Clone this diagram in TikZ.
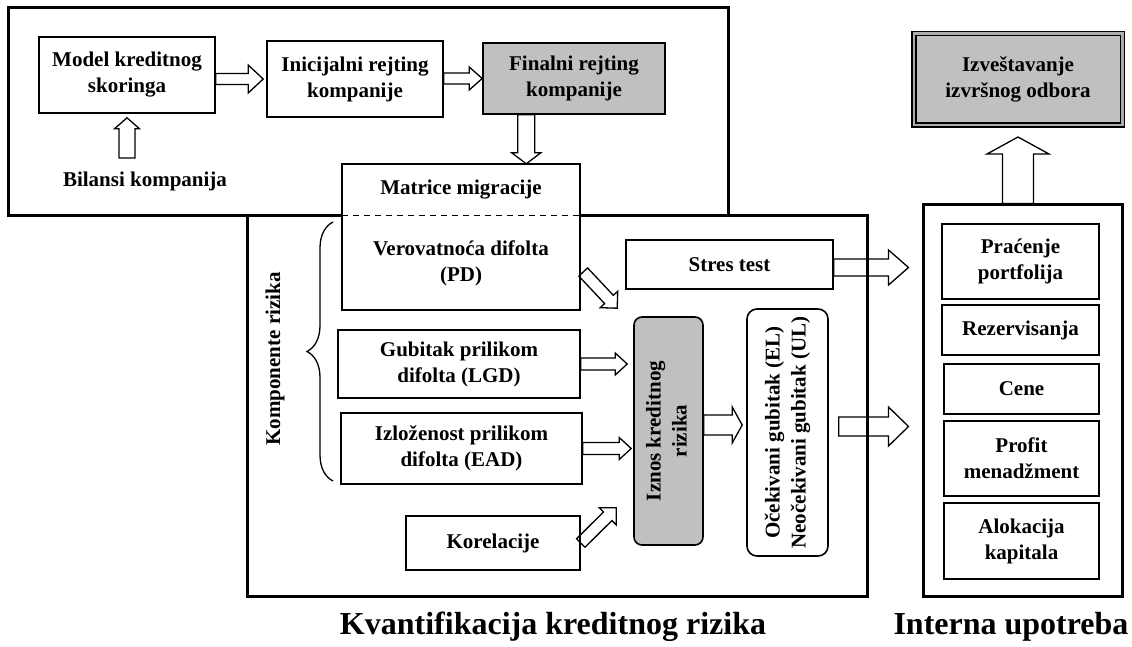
\documentclass[tikz,border=0pt]{standalone}
\usepackage{fontspec}
\setmainfont{Liberation Serif}
\usetikzlibrary{calc,decorations.pathreplacing}
\definecolor{boxgray}{RGB}{192,192,192}
% hollow block arrow: shaft half width, head half width, head length, from, to
\newcommand{\hollowarrow}[5]{%
  \path (#4) coordinate (ha-s) (#5) coordinate (ha-t);
  \path ($(ha-t)!#3!(ha-s)$) coordinate (ha-b);
  \draw[hollow] ($(ha-s)!#1!90:(ha-t)$) -- ($(ha-b)!#1!90:(ha-t)$) -- ($(ha-b)!#2!90:(ha-t)$) -- (ha-t)
    -- ($(ha-b)!#2!-90:(ha-t)$) -- ($(ha-b)!#1!-90:(ha-t)$) -- ($(ha-s)!#1!-90:(ha-t)$) -- cycle;
}
\begin{document}
\begin{tikzpicture}[x=1pt,y=-1pt,font=\fontsize{21}{26}\selectfont\bfseries]
  \tikzstyle{cell}=[draw, line width=1.6pt, align=center, inner sep=1pt]
  \tikzstyle{shaded}=[cell, fill=boxgray]
  \tikzstyle{frame}=[draw, line width=3pt, inner sep=0pt]
  \tikzstyle{report}=[draw, line width=1.5pt, double=gray!65, double distance=2.5pt, fill=boxgray, align=center]
  \tikzstyle{hollow}=[draw, line width=1.3pt]
  \tikzstyle{caption}=[font=\fontsize{32}{36}\selectfont\bfseries]
  \useasboundingbox (0,0) rectangle (1132,647);

  % frames
  \node [frame, minimum width=720pt, minimum height=208pt] (rating) at (368,112) {};
  \node [frame, minimum width=620pt, minimum height=380pt] (kvant) at (557,406) {};
  \node [frame, minimum width=199pt, minimum height=391pt] (interna) at (1022.5,400.5) {};

  % rating
  \node [cell, minimum width=176pt, minimum height=76pt] (model) at (127,75) {Model kreditnog\\skoringa};
  \node [cell, minimum width=176pt, minimum height=76pt] (inic) at (355,79) {Inicijalni rejting\\kompanije};
  \node [shaded, minimum width=182pt, minimum height=71pt] (final) at (574,78.5) {Finalni rejting\\kompanije};
  \node (bilansi) at (145,181) {Bilansi kompanija};

  % migration matrices and PD
  \node [fill=white, minimum width=238pt, minimum height=52pt] (matrice) at (461,190) {Matrice migracije};
  \node [fill=white, align=center, minimum width=238pt, minimum height=94pt] (pd) at (461,263) {Verovatnoća difolta\\(PD)};
  \draw [line width=1.6pt] (matrice.north west) rectangle (pd.south east);
  \draw [line width=1.3pt, dash pattern=on 6pt off 5pt] (pd.north west) -- (pd.north east);

  % risk components
  \node [cell, minimum width=242pt, minimum height=68pt] (lgd) at (459,364) {Gubitak prilikom\\difolta (LGD)};
  \node [cell, minimum width=241pt, minimum height=71pt] (ead) at (461.5,448.5) {Izloženost prilikom\\difolta (EAD)};
  \node [cell, minimum width=174pt, minimum height=54pt] (korel) at (493,543) {Korelacije};
  \node [cell, minimum width=207pt, minimum height=49pt] (stres) at (729.5,264.5) {Stres test};
  \node [shaded, rounded corners=8pt, minimum width=69pt, minimum height=228pt] (iznos) at (668.5,431)
    {\rotatebox{90}{\begin{tabular}{@{}c@{}}Iznos kreditnog\\rizika\end{tabular}}};
  \node [cell, rounded corners=10pt, minimum width=81pt, minimum height=247pt] (ocek) at (787.5,432.5)
    {\rotatebox{90}{\begin{tabular}{@{}c@{}}Očekivani gubitak (EL)\\Neočekivani gubitak (UL)\end{tabular}}};
  \node [rotate=90] (komp) at (275,359) {Komponente rizika};
  \draw [line width=1.3pt, decorate, decoration={brace, amplitude=26pt}] (333,481) -- (333,222);

  % internal use
  \node [report, minimum width=208.5pt, minimum height=91.5pt] (izvest) at (1018,79.5) {Izveštavanje\\izvršnog odbora};
  \node [cell, minimum width=157pt, minimum height=75pt] (pracenje) at (1020.5,261.5) {Praćenje\\portfolija};
  \node [cell, minimum width=157pt, minimum height=50pt] (rezerv) at (1020.5,330) {Rezervisanja};
  \node [cell, minimum width=155pt, minimum height=50pt] (cene) at (1021.5,389) {Cene};
  \node [cell, minimum width=155pt, minimum height=75pt] (profit) at (1021.5,458.5) {Profit\\menadžment};
  \node [cell, minimum width=155pt, minimum height=76pt] (alok) at (1021.5,541) {Alokacija\\kapitala};

  \node [caption, anchor=base] (kvanttitle) at (553,634) {Kvantifikacija kreditnog rizika};
  \node [caption, anchor=base] (internatitle) at (1011,634) {Interna upotreba};

  % arrows
  \coordinate (drop) at ($(final.south west)!.24!(final.south east)$);
  \hollowarrow{5.5pt}{14pt}{15pt}{model.east |- inic.west}{$(inic.west)+(-3,0)$}
  \hollowarrow{5.5pt}{11.5pt}{13pt}{inic.east |- final.west}{final.west}
  \hollowarrow{8.5pt}{14.5pt}{11pt}{drop}{drop |- matrice.north}
  \hollowarrow{8pt}{12.5pt}{11pt}{$(bilansi.north -| model.south)+(0,-10)$}{$(model.south)+(0,4)$}
  \hollowarrow{6pt}{12pt}{12pt}{$(pd.east)+(3,9)$}{$(iznos.north west)+(-16,-8)$}
  \hollowarrow{6pt}{11pt}{12pt}{lgd.east}{$(iznos.west |- lgd.east)+(-6,0)$}
  \hollowarrow{6pt}{11pt}{12pt}{ead.east}{$(iznos.west |- ead.east)+(-2,0)$}
  \hollowarrow{6pt}{12pt}{12pt}{korel.east}{$(iznos.south west)+(-17,-38)$}
  \hollowarrow{10pt}{18pt}{10pt}{$(iznos.east)+(0,-6)$}{$(ocek.west |- iznos.east)+(-4,-6)$}
  \hollowarrow{8.5pt}{17.5pt}{20pt}{$(stres.east)+(0,3)$}{$(interna.west |- stres.east)+(-13,3)$}
  \hollowarrow{9.5pt}{19.5pt}{20pt}{$(ocek.east)+(10,-6)$}{$(interna.west |- ocek.east)+(-13,-6)$}
  \hollowarrow{15.5pt}{31pt}{17pt}{interna.north -| izvest.south}{$(izvest.south)+(0,11)$}
\end{tikzpicture}
\end{document}
